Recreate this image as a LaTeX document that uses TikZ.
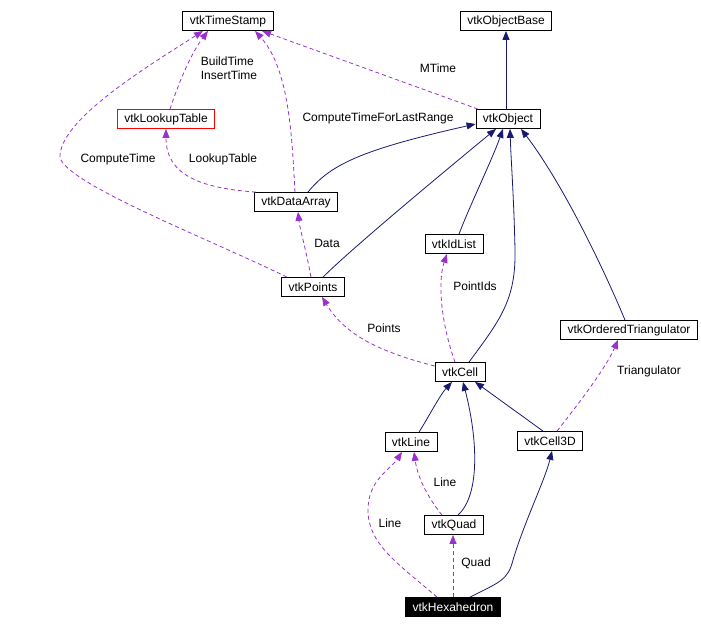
\documentclass[tikz,border=0pt]{standalone}
\usepackage{fontspec}
\setmainfont{Liberation Sans}
\usetikzlibrary{arrows.meta}
\definecolor{edgeblue}{RGB}{25,25,112}
\definecolor{edgepurple}{RGB}{153,50,204}

\begin{document}
\begin{tikzpicture}[x=1pt,y=-1pt,
  cls/.style={draw,line width=0.8pt,inner xsep=7pt,inner ysep=0pt,minimum height=19pt,font=\fontsize{12}{14}\selectfont},
  inh/.style={edgeblue,line width=0.8pt,-{Triangle[length=9pt,width=7pt]}},
  member/.style={edgepurple,line width=0.8pt,dash pattern=on 4pt off 3pt,-{Triangle[length=9pt,width=7pt]}},
  lbl/.style={font=\fontsize{12}{14}\selectfont}]
\useasboundingbox (0,0) rectangle (701,629);
\node[cls] (timestamp) at (228,21) {vtkTimeStamp};
\node[cls] (objectbase) at (506,21) {vtkObjectBase};
\node[cls] (object) at (508,119) {vtkObject};
\node[cls,draw=red] (lookup) at (166,119) {vtkLookupTable};
\node[cls] (dataarray) at (296,202) {vtkDataArray};
\node[cls] (points) at (313,287) {vtkPoints};
\node[cls] (idlist) at (454,244) {vtkIdList};
\node[cls] (triang) at (629,330) {vtkOrderedTriangulator};
\node[cls] (cell) at (460,372) {vtkCell};
\node[cls] (line) at (411,442) {vtkLine};
\node[cls] (cell3d) at (550,441) {vtkCell3D};
\node[cls] (quad) at (454,525) {vtkQuad};
\node[cls,fill=black,text=white] (hexa) at (453,607) {vtkHexahedron};
\draw[inh] (objectbase.south |- object.north) -- (objectbase.south);
\draw[member] ([xshift=-30pt]object.north) -- ([xshift=34pt]timestamp.south);
\node[lbl] (mtime) at (438,68) {MTime};
\draw[member] ([xshift=4pt]lookup.north) .. controls (178,85) and (190,55) .. ([xshift=-20pt]timestamp.south);
\node[lbl,align=left] (buildtime) at (229,68) {BuildTime\\InsertTime};
\draw[member] ([xshift=-26pt]points.north) .. controls (200,235) and (70,185) .. (60,158)
  .. controls (58,120) and (150,65) .. ([xshift=-25pt]timestamp.south);
\node[lbl] (computetime) at (118,159) {ComputeTime};
\draw[member] ([xshift=-1pt]dataarray.north) .. controls (292,140) and (290,70) .. ([xshift=27pt]timestamp.south);
\node[lbl] (lastrange) at (378,118) {ComputeTimeForLastRange};
\draw[inh] ([xshift=12pt]dataarray.north) .. controls (330,165) and (360,150) .. ([yshift=-5pt]object.west);
\draw[member] ([xshift=2pt]dataarray.north west) .. controls (200,188) and (166,175) .. (lookup.south);
\node[lbl] (lookuplbl) at (223,159) {LookupTable};
\draw[member] ([xshift=-2pt]points.north) .. controls (305,245) and (300,230) .. ([xshift=2pt]dataarray.south);
\node[lbl] (datalbl) at (327,243) {Data};
\draw[inh] ([xshift=10pt]points.north) .. controls (350,250) and (440,175) .. ([xshift=-12pt]object.south);
\draw[inh] ([xshift=5pt]idlist.north) .. controls (470,205) and (492,160) .. ([xshift=-5pt]object.south);
\draw[inh] ([xshift=9pt]cell.north) .. controls (500,320) and (516,300) .. (515,250)
  .. controls (514,200) and (511,160) .. ([xshift=2pt]object.south);
\draw[inh] ([xshift=-4pt]triang.north) .. controls (600,260) and (560,180) .. ([xshift=13pt]object.south);
\draw[member] ([xshift=-5pt]cell.north) .. controls (440,320) and (438,280) .. ([xshift=-7pt]idlist.south);
\node[lbl] (pointids) at (475,286) {PointIds};
\draw[member] ([yshift=6pt]cell.west) .. controls (380,352) and (345,335) .. ([xshift=9pt]points.south);
\node[lbl] (pointslbl) at (384,328) {Points};
\draw[member] ([xshift=7pt]cell3d.north) .. controls (572,412) and (605,370) .. ([xshift=-11pt]triang.south);
\node[lbl] (trianglbl) at (649,371) {Triangulator};
\draw[inh] ([xshift=8pt]line.north) .. controls (428,418) and (440,395) .. ([xshift=-8pt]cell.south);
\draw[inh] ([xshift=4pt]quad.north) .. controls (480,495) and (478,440) .. ([xshift=3pt]cell.south);
\draw[inh] ([xshift=-7pt]cell3d.north) .. controls (525,418) and (500,400) .. ([xshift=15pt]cell.south);
\draw[member] ([xshift=-12pt]quad.north) .. controls (430,500) and (418,480) .. ([xshift=3pt]line.south);
\node[lbl] (linelbl) at (445,482) {Line};
\draw[member] ([xshift=-16pt]hexa.north) .. controls (400,565) and (368,545) .. (368,510)
  .. controls (368,480) and (390,470) .. ([xshift=-9pt]line.south);
\node[lbl] (linelbl2) at (390,523) {Line};
\draw[member] (hexa.north) -- (hexa.north |- quad.south);
\node[lbl] (quadlbl) at (476,563) {Quad};
\draw[inh] ([xshift=17pt]hexa.north) .. controls (500,582) and (508,580) .. (513,560)
  .. controls (525,520) and (545,480) .. ([xshift=2pt]cell3d.south);
\end{tikzpicture}
\end{document}
